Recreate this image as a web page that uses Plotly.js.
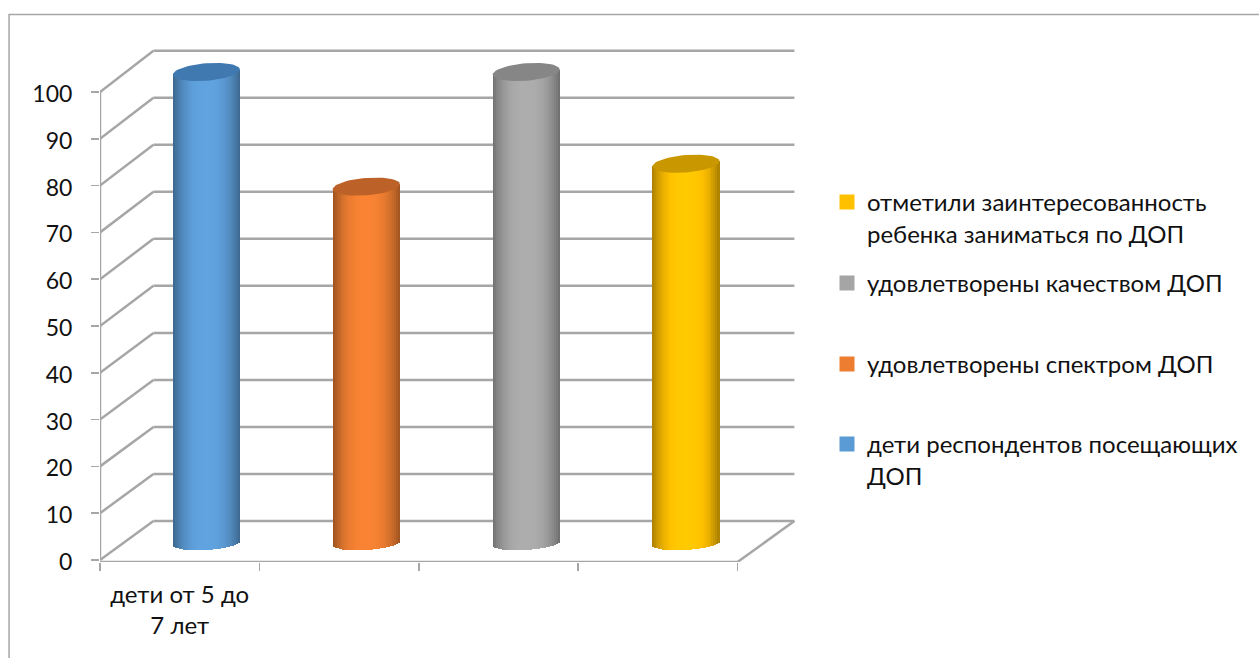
<!DOCTYPE html>
<html><head><meta charset="utf-8">
<script src="https://cdn.plot.ly/plotly-3.0.1.min.js"></script>
<style>html,body{margin:0;padding:0;background:#fff;overflow:hidden}#c{width:1259px;height:658px}</style>
</head><body><div id="c"></div>
<script>
// data
const seriesNames = ['дети респондентов посещающих<br>ДОП','удовлетворены спектром ДОП','удовлетворены качеством ДОП','отметили заинтересованность<br>ребенка заниматься по ДОП'];
const seriesValues = [100,75,100,80];
const seriesColors = ['#5B9BD5','#ED7D31','#A5A5A5','#FFC000'];
const capColors = ['#3F79B0','#BC6127','#868686','#C99700'];
const categoryLabel = ['дети от 5 до<br>7 лет'];
const yTicks = [0,10,20,30,40,50,60,70,80,90,100];
const xBoundaries = [0,1,2,3,4];
const legendTops = [422,342,261,180];

const W=1259,H=658, L=99.5,R=800,T=40,B=562;
const FONT='Lato, "Noto Sans", sans-serif', GRID='#A6A6A6', TXT='#111111';
const xUnit=159.5, xMax=(R-L)/xUnit;
const frontPx=4.68, frontZero=560;
const barPx=4.585, barZero=530.5;
const halfW=33.5/xUnit, centerOffset=0.668, pitch=160/xUnit;
const px2x=p=>(p-L)/(R-L), px2y=p=>1-(p-T)/(B-T);

function shade(hex,f){
  const n=parseInt(hex.slice(1),16);
  const c=[n>>16,(n>>8)&255,n&255].map(v=>Math.min(255,Math.round(v*f)));
  return 'rgb('+c.join(',')+')';
}
const backY=v=>(frontZero-(521-v*4.703))/frontPx;
const depthX=53.5/xUnit, backEnd=xMax-0.035;
const line=(x0,y0,x1,y1,w)=>({type:'line',xref:'x',yref:'y',x0,y0,x1,y1,layer:'below',line:{color:GRID,width:w||2.5}});

const shapes=[];
yTicks.forEach(v=>{
  shapes.push(line(0,v,depthX,backY(v)));
  shapes.push(line(depthX,backY(v),backEnd,backY(v)));
});
shapes.push(line(0,0,0,100));
shapes.push(line(0,-0.43,4,-0.43));
shapes.push(line(4,-0.43,backEnd,backY(0)));
shapes.push({type:'rect',xref:'paper',yref:'paper',x0:px2x(8.5),x1:px2x(1280),y0:px2y(680),y1:px2y(14.5),layer:'below',line:{color:'#A6A6A6',width:1.5},fillcolor:'rgba(0,0,0,0)'});

const traces=[];
const N=34;
seriesValues.forEach((v,i)=>{
  const c=i*pitch+centerOffset;
  traces.push({type:'bar',x:[c],y:[v],base:[0],width:[0.3],name:seriesNames[i],xaxis:'x',yaxis:'y2',
    marker:{color:seriesColors[i],line:{color:seriesColors[i],width:3}},
    legend:i==0?'legend':'legend'+(i+1),showlegend:true,hoverinfo:'skip'});
});
seriesValues.forEach((v,i)=>{
  const c=i*pitch+centerOffset;
  const xs=[],ys=[],bs=[],ws=[],cs=[];
  for(let k=0;k<N;k++){
    const u=-1+(2*k+1)/N;
    const base=-2.73+0.436*u-1.53*Math.sqrt(Math.max(0,1-u*u));
    const top=v+(2.5/barPx)*u;
    xs.push(c+u*halfW); bs.push(base); ys.push(top-base);
    ws.push(2*halfW/N*1.25);
    cs.push(shade(seriesColors[i],0.66+0.39*(1-Math.pow(Math.abs(u),2.6))));
  }
  traces.push({type:'bar',x:xs,y:ys,base:bs,width:ws,xaxis:'x',yaxis:'y2',marker:{color:cs,line:{width:0}},showlegend:false,hoverinfo:'skip'});
});
seriesValues.forEach((v,i)=>{
  const c=i*pitch+centerOffset;
  const ex=[],ey=[];
  for(let t=0;t<=60;t++){
    const a=t/60*2*Math.PI;
    ex.push(c+halfW*Math.cos(a));
    ey.push(v+(2.5/barPx)*Math.cos(a)+(8.7/barPx)*Math.sin(a));
  }
  traces.push({type:'scatter',mode:'lines',x:ex,y:ey,xaxis:'x',yaxis:'y2',fill:'toself',fillcolor:capColors[i],line:{width:0,color:capColors[i]},showlegend:false,hoverinfo:'skip'});
});

const leg=(i)=>({x:827/W,y:1-legendTops[i]/H,xref:'container',yref:'container',xanchor:'left',yanchor:'top',valign:'top',bgcolor:'rgba(0,0,0,0)',borderwidth:0,font:{family:FONT,size:24,color:TXT}});

const layout={
  width:W,height:H,paper_bgcolor:'#fff',plot_bgcolor:'rgba(0,0,0,0)',barmode:'overlay',bargap:0,showlegend:true,
  margin:{l:L,r:W-R,t:T,b:H-B,pad:0},hovermode:false,
  xaxis:{range:[0,xMax],tickmode:'array',tickvals:[0.5],ticktext:categoryLabel,ticks:'outside',ticklen:0,showgrid:false,zeroline:false,showline:false,
    ticklabelstandoff:11,tickfont:{family:FONT,size:24,color:TXT},
    minor:{tickmode:'array',tickvals:xBoundaries,ticks:'outside',ticklen:8,tickwidth:1.5,tickcolor:GRID,showgrid:false}},
  yaxis:{range:[(frontZero-B)/frontPx,(frontZero-T)/frontPx],tickmode:'array',tickvals:yTicks,ticks:'outside',ticklen:8,tickwidth:1.5,tickcolor:GRID,
    showgrid:false,zeroline:false,showline:false,ticklabelstandoff:14,ticklabelshift:2,tickfont:{family:FONT,size:23,color:TXT}},
  yaxis2:{overlaying:'y',range:[(barZero-B)/barPx,(barZero-T)/barPx],visible:false,showgrid:false,zeroline:false},
  shapes,
  legend:leg(0),legend2:leg(1),legend3:leg(2),legend4:leg(3)
};
Plotly.newPlot('c',traces,layout,{displayModeBar:false,staticPlot:true});
</script></body></html>
